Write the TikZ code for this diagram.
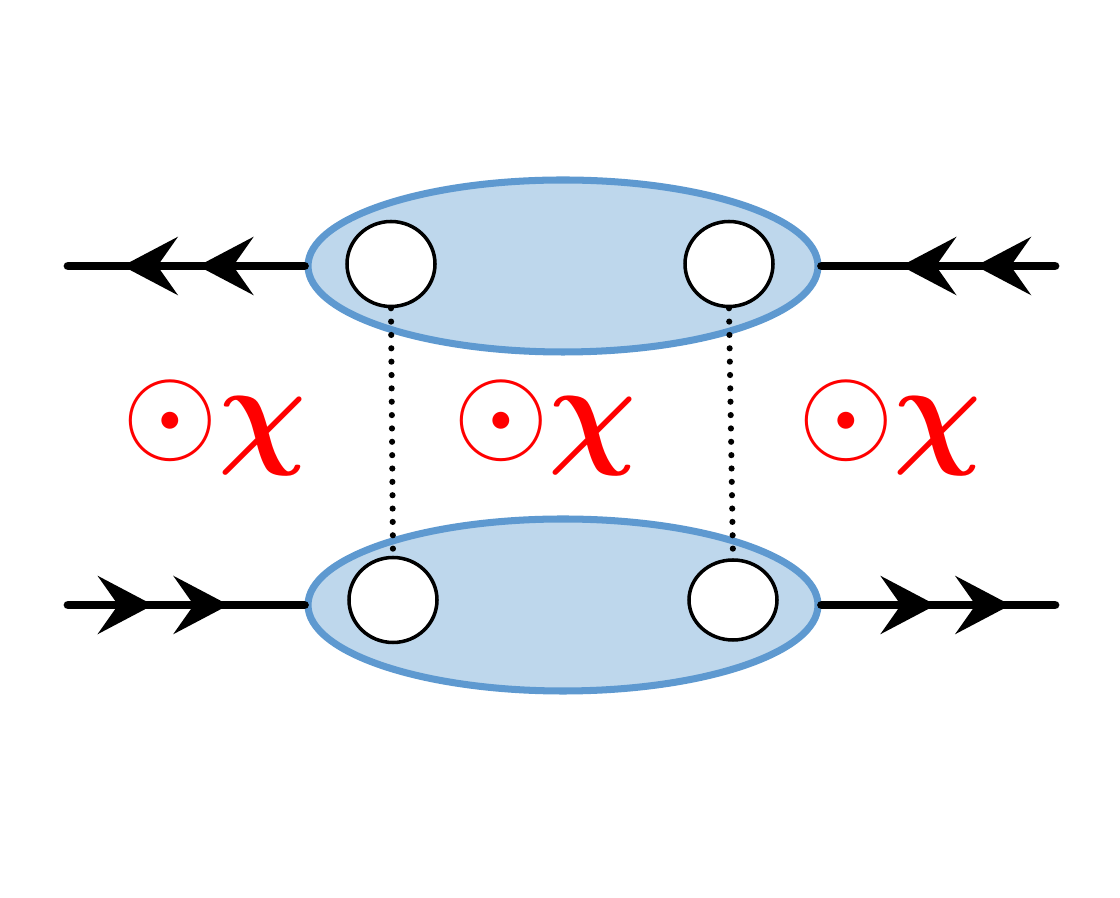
\documentclass[tikz,border=0pt]{standalone}
\usepackage{amsmath}
\usetikzlibrary{arrows.meta,decorations.markings,shapes.geometric}
\definecolor{blobfill}{RGB}{190,215,236}
\definecolor{blobline}{RGB}{94,153,208}
\tikzset{
  legtip/.tip={Stealth[length=1.1cm,width=1.15cm,inset=0.4cm]},
  blob/.style={draw=blobline, fill=blobfill, line width=4pt, ellipse, minimum width=10.2cm, minimum height=3.44cm},
  hole/.style={draw, fill=white, line width=2pt, ellipse, minimum width=1.76cm, minimum height=1.7cm},
  leg/.style={line width=5pt, line cap=round},
  twoarrows/.style={postaction={decorate}, decoration={markings,
    mark=at position #1 with {\arrow{legtip}},
    mark=at position #1+0.32 with {\arrow{legtip}}}},
  dots/.style={line width=3.5pt, dash pattern=on 0pt off 7.6pt, line cap=round},
  lbl/.style={scale=7, color=red}
}
\begin{document}
\begin{tikzpicture}
\useasboundingbox (0,0) rectangle (22.4,17.96);

% NODES %%%%%%%%%%%%%%%%%%%%%%%%%%%%%%%%%%%%%%%%%%%%%%%%%%%%%%%%%%%%%%%%%%

\node[blob] (Btop) at (11.26,12.64) {};
\node[blob] (Bbot) at (11.26,5.86) {};

\node[hole] (H1) at (7.82,12.68) {};
\node[hole] (H2) at (14.58,12.68) {};
\node[hole] (H3) at (7.86,5.96) {};
\node[hole, minimum height=1.6cm] (H4) at (14.66,5.96) {};

\coordinate (L1) at (1.36,12.64);
\coordinate (R1) at (21.1,12.64);
\coordinate (L2) at (1.36,5.86);
\coordinate (R2) at (21.1,5.86);

% LINKS %%%%%%%%%%%%%%%%%%%%%%%%%%%%%%%%%%%%%%%%%%%%%%%%%%%%%%%%%%%%%%%%%%

\draw[leg, twoarrows=0.45] (Btop.west) -- (L1);
\draw[leg, twoarrows=0.34] (R1) -- (Btop.east);
\draw[leg, twoarrows=0.36] (L2) -- (Bbot.west);
\draw[leg, twoarrows=0.49] (Bbot.east) -- (R2);

\draw[dots] (H1.south) -- (H3.north);
\draw[dots] (H2.south) -- (H4.north);

% ETIQUETTES

\node[lbl] (T1) at (4.3,9.4) {$\odot\boldsymbol{\chi}$};
\node[lbl] (T2) at (10.9,9.4) {$\odot\boldsymbol{\chi}$};
\node[lbl] (T3) at (17.8,9.4) {$\odot\boldsymbol{\chi}$};

\end{tikzpicture}
\end{document}
